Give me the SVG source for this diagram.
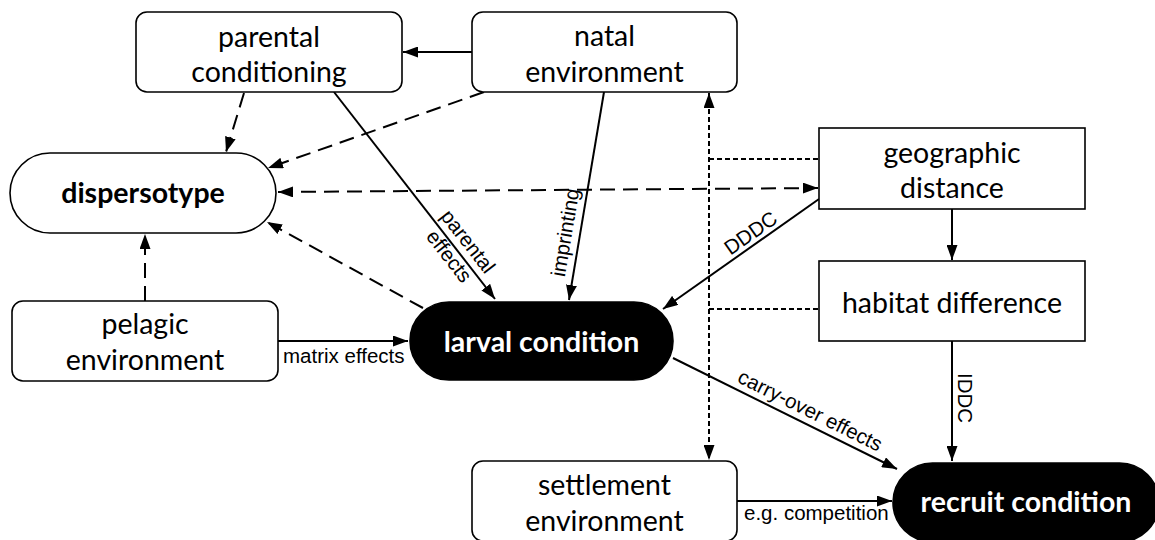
<svg xmlns="http://www.w3.org/2000/svg" width="1155" height="540" viewBox="0 0 1155 540">
<style>
.box{fill:#fff;stroke:#000;stroke-width:1.6}
.dark{fill:#000;stroke:#000;stroke-width:1.6}
.nl{font-family:Lato,"Open Sans",sans-serif;font-size:28.5px;fill:#000;text-anchor:middle}
.nb{font-family:Lato,"Open Sans",sans-serif;font-size:28.5px;font-weight:700;text-anchor:middle}
.el{font-family:"Liberation Sans",Arial,sans-serif;font-size:20.5px;fill:#000}
.c{fill:none;stroke:#000;stroke-width:2}
.d{stroke-dasharray:15,8}
.dot{stroke-dasharray:5,3}
</style>
<defs>
<marker id="ah" markerUnits="userSpaceOnUse" markerWidth="15" markerHeight="11" refX="15" refY="5.5" orient="auto-start-reverse">
<path d="M0,0 L15,5.5 L0,11 z" fill="#000"/>
</marker>
</defs>
<g id="connectors">
<line class="c" x1="472" y1="52" x2="403" y2="52" marker-end="url(#ah)"/>
<line class="c d" x1="244" y1="93" x2="226" y2="152" marker-end="url(#ah)"/>
<line class="c d" x1="484" y1="92" x2="268" y2="168" marker-end="url(#ah)"/>
<line class="c d" x1="278" y1="192" x2="818" y2="188" marker-start="url(#ah)" marker-end="url(#ah)"/>
<line class="c d" x1="423" y1="308" x2="267" y2="222" marker-end="url(#ah)"/>
<line class="c d" x1="145" y1="301" x2="145" y2="234" marker-end="url(#ah)"/>
<line class="c" x1="334" y1="92" x2="495" y2="299" marker-end="url(#ah)"/>
<line class="c" x1="604" y1="92" x2="569" y2="300" marker-end="url(#ah)"/>
<line class="c" x1="819" y1="199" x2="663" y2="309" marker-end="url(#ah)"/>
<line class="c" x1="952" y1="209" x2="952" y2="260" marker-end="url(#ah)"/>
<line class="c" x1="952" y1="341" x2="952" y2="461" marker-end="url(#ah)"/>
<line class="c" x1="673" y1="358" x2="897" y2="469" marker-end="url(#ah)"/>
<line class="c" x1="737" y1="501" x2="892" y2="501" marker-end="url(#ah)"/>
<line class="c" x1="278" y1="341" x2="408" y2="341" marker-end="url(#ah)"/>
<line class="c dot" x1="709" y1="93" x2="709" y2="460" marker-start="url(#ah)" marker-end="url(#ah)"/>
<line class="c dot" x1="709" y1="159" x2="819" y2="159"/>
<line class="c dot" x1="709" y1="309" x2="819" y2="309"/>
<text class="el" x="283" y="363">matrix effects</text>
<text class="el" x="744" y="520">e.g. competition</text>
<text class="el" text-anchor="middle" transform="translate(804,423) rotate(26.4)" y="-7">carry-over effects</text>
<text class="el" text-anchor="middle" transform="translate(757,242) rotate(-35.2)" y="-4">DDDC</text>
<text class="el" text-anchor="middle" transform="translate(958,398) rotate(90)">IDDC</text>
<text class="el" text-anchor="middle" transform="translate(580,235) rotate(-80.4)" y="-8">imprinting</text>
<text class="el" text-anchor="middle" transform="translate(457,250) rotate(52.1)"><tspan x="0" y="-7">parental</tspan><tspan x="0" y="17">effects</tspan></text>
</g>
<g id="parental-conditioning">
<rect class="box" x="136" y="12" width="266" height="80" rx="11"/>
<text class="nl" x="269" y="47">parental</text>
<text class="nl" x="269" y="82">conditioning</text>
</g>
<g id="natal-environment">
<rect class="box" x="472" y="12" width="265" height="80" rx="11"/>
<text class="nl" x="604.5" y="46">natal</text>
<text class="nl" x="604.5" y="82">environment</text>
</g>
<g id="dispersotype">
<rect class="box" x="10" y="153" width="266" height="80" rx="40"/>
<text class="nb" x="143" y="203" fill="#000">dispersotype</text>
</g>
<g id="geographic-distance">
<rect class="box" x="819" y="128" width="266" height="81"/>
<text class="nl" x="952" y="163">geographic</text>
<text class="nl" x="952" y="198">distance</text>
</g>
<g id="habitat-difference">
<rect class="box" x="819" y="261" width="266" height="80"/>
<text class="nl" x="952" y="313">habitat difference</text>
</g>
<g id="pelagic-environment">
<rect class="box" x="12" y="301" width="266" height="80" rx="11"/>
<text class="nl" x="145" y="334">pelagic</text>
<text class="nl" x="145" y="370">environment</text>
</g>
<g id="larval-condition">
<rect class="dark" x="410" y="302" width="263" height="78" rx="39"/>
<text class="nb" x="541.5" y="352" fill="#fff">larval condition</text>
</g>
<g id="settlement-environment">
<rect class="box" x="472" y="461" width="265" height="80" rx="11"/>
<text class="nl" x="604.5" y="495">settlement</text>
<text class="nl" x="604.5" y="531">environment</text>
</g>
<g id="recruit-condition">
<rect class="dark" x="893" y="463" width="266" height="79" rx="39.5"/>
<text class="nb" x="1026" y="512" fill="#fff">recruit condition</text>
</g>
</svg>
